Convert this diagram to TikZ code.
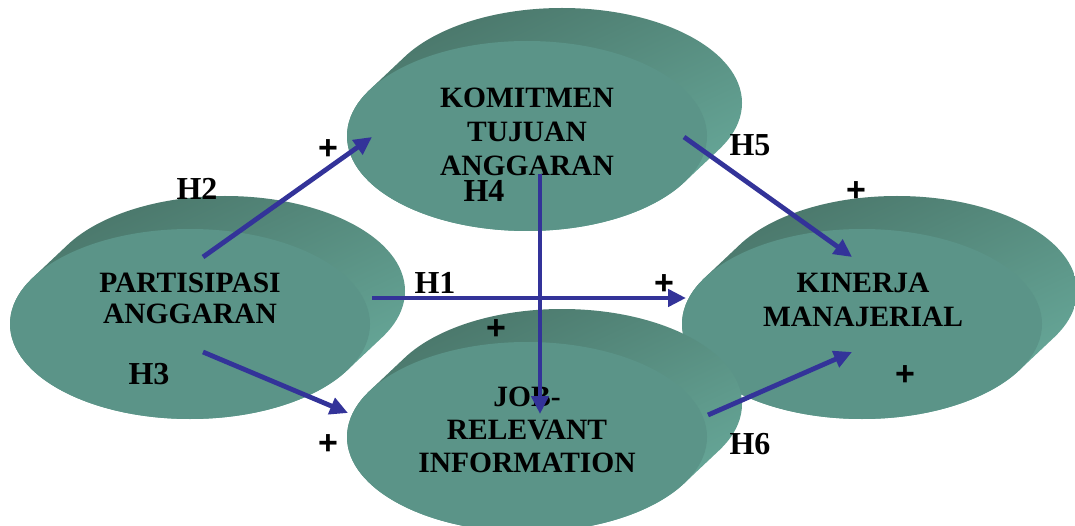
\documentclass[tikz,border=0pt]{standalone}
\usepackage{fontspec}
\setmainfont{Liberation Serif}
\newfontfamily\plusfont{Liberation Sans}
\usetikzlibrary{shapes.geometric,arrows.meta}
\definecolor{facecol}{RGB}{91,148,136}
\definecolor{sidedark}{RGB}{74,118,106}
\definecolor{sidelight}{RGB}{104,170,155}
\definecolor{arrowcol}{RGB}{51,51,153}
\tikzset{
  sideshade/.style={top color=sidedark, bottom color=sidelight, shading angle=25},
  face/.style={ellipse, minimum width=360pt, minimum height=190pt, inner sep=0pt, fill=facecol, draw=none},
  disctext/.style={anchor=north, align=center, inner sep=0pt, font=\fontsize{29.5}{#1}\selectfont\bfseries},
  hlabel/.style={font=\fontsize{32}{32}\selectfont\bfseries, inner sep=0pt},
  plus/.style={font=\fontsize{34}{34}\selectfont\plusfont\bfseries, inner sep=0pt},
  hyp/.style={draw=arrowcol, line width=4.8pt, -{Triangle[length=18pt,width=17pt]}},
}
\newcommand\mydisc[3]{%
  \path[sideshade] \foreach \i in {0,...,30}{ ({#2+35*\i/30},{#3-33*\i/30}) ellipse [x radius=180pt, y radius=95pt] };
  \node[face] (#1) at (#2,#3) {};
}
\begin{document}
\begin{tikzpicture}[x=1pt,y=-1pt]
\useasboundingbox (0,0) rectangle (1075,526);
\mydisc{K}{527}{136}
\mydisc{KIN}{862}{324}
\mydisc{P}{190}{324}
\mydisc{J}{527}{437}

\node[disctext=31] (Pt) at (190,273) {PARTISIPASI\\ANGGARAN};
\node[disctext=34] (Kt) at (527,88) {KOMITMEN\\TUJUAN\\ANGGARAN};
\node[disctext=34] (KINt) at (863,273) {KINERJA\\MANAJERIAL};
\node[disctext=33] (Jt) at (527,387) {JOB-\\RELEVANT\\INFORMATION};

\coordinate (h2s) at (203,257); \coordinate (h2e) at (372,137);
\coordinate (h1s) at (372,298); \coordinate (h1e) at (686,298);
\coordinate (h3s) at (203,352); \coordinate (h3e) at (348,413);
\coordinate (h4s) at (540,174); \coordinate (h4e) at (540,414);
\coordinate (h5s) at (684,137); \coordinate (h5e) at (852,257);
\coordinate (h6s) at (708,415); \coordinate (h6e) at (852,352);

\draw[hyp] (h2s) -- (h2e);
\draw[hyp] (h1s) -- (h1e);
\draw[hyp] (h3s) -- (h3e);
\draw[hyp] (h4s) -- (h4e);
\draw[hyp] (h5s) -- (h5e);
\draw[hyp] (h6s) -- (h6e);

\node[hlabel] (lh2) at (197,189) {H2};
\node[hlabel] (lh1) at (435,283) {H1};
\node[hlabel] (lh3) at (149,374) {H3};
\node[hlabel] (lh4) at (484,191) {H4};
\node[hlabel] (lh5) at (750,145) {H5};
\node[hlabel] (lh6) at (750,444) {H6};

\node[plus] (p1) at (328,150) {+};
\node[plus] (p2) at (856,192) {+};
\node[plus] (p3) at (664,285) {+};
\node[plus] (p4) at (496,330) {+};
\node[plus] (p5) at (328,445) {+};
\node[plus] (p6) at (905,376) {+};
\end{tikzpicture}
\end{document}
